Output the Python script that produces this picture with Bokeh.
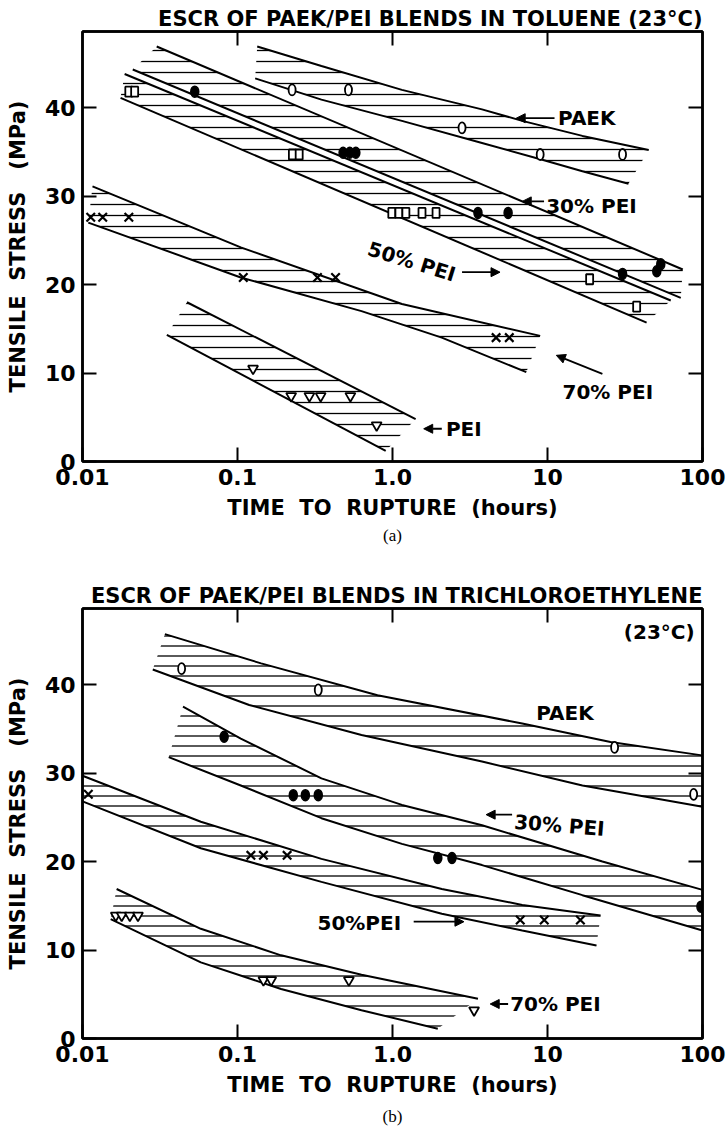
import json
from bokeh.plotting import figure
from bokeh.layouts import column
from bokeh.models import (LinearAxis, LogAxis, FixedTicker, Label, Arrow, NormalHead,
                          Title, CustomJSTickFormatter, Range1d)
from bokeh.embed import file_html
from bokeh.resources import INLINE

FONT = "DejaVu Sans"

# ---------------- shared axis data ----------------
x_ticks = [0.01, 0.1, 1, 10, 100]
x_tick_labels = ["0.01", "0.1", "1.0", "10", "100"]
y_ticks = [0, 10, 20, 30, 40]
x_label = "TIME\u00a0\u00a0TO\u00a0\u00a0RUPTURE\u00a0\u00a0(hours)"
y_label = "TENSILE\u00a0\u00a0STRESS\u00a0\u00a0\u00a0(MPa)"

# ---------------- panel (a): toluene ----------------
a_title = "ESCR OF PAEK/PEI BLENDS IN TOLUENE (23°C)"

a_paek_hi_x = [0.134, 0.348, 1.15, 3.78, 6.87, 16.8, 45.0]
a_paek_hi_y = [46.9, 44.7, 42.0, 39.8, 38.5, 36.8, 35.2]
a_paek_lo_x = [0.130, 0.348, 1.15, 3.78, 9.25, 16.8, 33.3]
a_paek_lo_y = [43.3, 40.9, 38.5, 36.0, 34.1, 32.8, 31.4]
a_pei30_hi_x = [0.0301, 74.6]
a_pei30_hi_y = [46.9, 21.7]
a_pei30_lo_x = [0.0211, 72.4]
a_pei30_lo_y = [44.3, 18.5]
a_pei50_hi_x = [0.0187, 62.4]
a_pei50_hi_y = [43.8, 18.2]
a_pei50_lo_x = [0.0176, 43.6]
a_pei50_lo_y = [41.1, 15.7]
a_pei70_hi_x = [0.0116, 0.105, 1.15, 8.97]
a_pei70_hi_y = [31.1, 24.2, 17.8, 14.2]
a_pei70_lo_x = [0.0109, 0.105, 0.631, 2.08, 7.30]
a_pei70_lo_y = [27.0, 20.8, 17.0, 14.0, 10.1]
a_pei_hi_x = [0.0472, 1.41]
a_pei_hi_y = [18.0, 4.8]
a_pei_lo_x = [0.035, 0.904]
a_pei_lo_y = [14.3, 1.2]

a_paek_pts_x = [0.225, 0.52, 2.81, 8.97, 30.5]
a_paek_pts_y = [42.0, 42.0, 37.7, 34.7, 34.7]
a_pei30_pts_x = [0.053, 0.48, 0.53, 0.58, 3.56, 5.57, 30.5, 50.7, 53.8]
a_pei30_pts_y = [41.8, 34.9, 34.9, 34.9, 28.1, 28.1, 21.2, 21.5, 22.3]
a_pei50_pts_x = [0.0199, 0.0217, 0.226, 0.250, 0.99, 1.10, 1.22, 1.55, 1.91, 18.7, 37.6]
a_pei50_pts_y = [41.8, 41.8, 34.7, 34.7, 28.1, 28.1, 28.1, 28.1, 28.1, 20.6, 17.5]
a_pei70_pts_x = [0.0113, 0.0135, 0.0199, 0.109, 0.328, 0.429, 4.66, 5.67]
a_pei70_pts_y = [27.6, 27.6, 27.6, 20.8, 20.8, 20.8, 14.0, 14.0]
a_pei_pts_x = [0.126, 0.222, 0.291, 0.344, 0.535, 0.79]
a_pei_pts_y = [10.5, 7.4, 7.4, 7.4, 7.4, 4.1]

a_note_text = ["PAEK", "30% PEI", "50% PEI", "70% PEI", "PEI"]
a_note_x = [11.7, 9.8, 1.33, 12.5, 2.21]
a_note_y = [38.8, 28.9, 22.6, 7.8, 3.7]
a_note_align = ["left", "left", "center", "left", "left"]
a_note_angle = [0.0, 0.0, -0.30, 0.0, 0.0]
a_arrow_x0 = [11.1, 9.5, 2.81, 22.6, 2.08]
a_arrow_y0 = [38.8, 29.4, 21.4, 9.9, 3.7]
a_arrow_x1 = [6.28, 6.87, 4.94, 11.4, 1.59]
a_arrow_y1 = [38.8, 29.4, 21.4, 12.0, 3.7]

# ---------------- panel (b): trichloroethylene ----------------
b_title = "ESCR OF PAEK/PEI BLENDS IN TRICHLOROETHYLENE"

b_paek_hi_x = [0.034, 0.142, 0.80, 6.87, 25.5, 99.3]
b_paek_hi_y = [45.7, 42.4, 38.8, 35.6, 33.5, 32.0]
b_paek_lo_x = [0.0284, 0.119, 0.631, 3.78, 16.8, 100]
b_paek_lo_y = [41.7, 37.7, 34.3, 31.3, 28.6, 26.2]
b_pei30_hi_x = [0.0445, 0.105, 0.348, 1.15, 3.78, 22.6, 100]
b_pei30_hi_y = [37.5, 33.9, 29.4, 26.4, 24.1, 20.0, 16.8]
b_pei30_lo_x = [0.036, 0.105, 0.348, 1.15, 3.78, 16.8, 100]
b_pei30_lo_y = [31.8, 28.6, 24.9, 22.0, 19.6, 16.2, 12.2]
b_pei50_hi_x = [0.01, 0.058, 0.348, 2.08, 6.87, 22.0]
b_pei50_hi_y = [29.7, 24.5, 20.3, 16.9, 15.1, 13.9]
b_pei50_lo_x = [0.01, 0.058, 0.348, 2.08, 6.87, 20.7]
b_pei50_lo_y = [26.8, 21.5, 17.7, 14.1, 12.2, 10.5]
b_pei70_hi_x = [0.0166, 0.058, 0.191, 0.631, 3.56]
b_pei70_hi_y = [16.9, 12.4, 9.4, 7.2, 4.5]
b_pei70_lo_x = [0.0152, 0.058, 0.191, 0.631, 1.96]
b_pei70_lo_y = [13.5, 8.6, 5.6, 3.2, 1.1]

b_paek_pts_x = [0.0436, 0.332, 27.1, 87.7]
b_paek_pts_y = [41.8, 39.4, 32.9, 27.6]
b_pei30_pts_x = [0.082, 0.229, 0.274, 0.332, 1.96, 2.42, 97.7]
b_pei30_pts_y = [34.1, 27.5, 27.5, 27.5, 20.4, 20.4, 14.9]
b_pei50_pts_x = [0.0109, 0.122, 0.147, 0.209, 6.67, 9.53, 16.3]
b_pei50_pts_y = [27.6, 20.7, 20.7, 20.7, 13.4, 13.4, 13.4]
b_pei70_pts_x = [0.0164, 0.0179, 0.0202, 0.0228, 0.147, 0.165, 0.523, 3.36]
b_pei70_pts_y = [13.9, 13.9, 13.9, 13.9, 6.6, 6.6, 6.6, 3.2]

b_note_text = ["(23°C)", "PAEK", "30% PEI", "50%PEI", "70% PEI"]
b_note_x = [89.0, 8.45, 6.1, 0.328, 5.74]
b_note_y = [46.0, 36.8, 24.5, 13.0, 3.9]
b_note_align = ["right", "left", "left", "left", "left"]
b_note_angle = [0.0, 0.0, -0.08, 0.0, 0.0]
b_arrow_x0 = [5.91, 1.37, 5.57]
b_arrow_y0 = [25.3, 13.2, 3.9]
b_arrow_x1 = [4.02, 2.89, 4.27]
b_arrow_y1 = [25.3, 13.2, 3.9]

Y_MAX = 48.6


def style_axis(ax, labels=True):
    ax.axis_line_width = 2.5
    ax.axis_line_color = "black"
    ax.major_tick_line_width = 2
    ax.major_tick_line_color = "black"
    ax.major_tick_in = 14
    ax.major_tick_out = 0
    ax.minor_tick_line_color = None
    ax.major_label_text_font = FONT
    ax.major_label_text_color = "black"
    if labels:
        ax.major_label_text_font_size = "22px"
        ax.major_label_text_font_style = "bold"
        ax.major_label_standoff = 7
    else:
        ax.major_label_text_font_size = "1px"
        ax.major_label_standoff = 0
        ax.formatter = CustomJSTickFormatter(code="return '';")


def make_panel(height, b_top, b_bottom, b_left, b_right, title, sub, sub_standoff):
    p = figure(width=726, height=height, x_axis_type="log",
               x_range=Range1d(0.01, 100), y_range=Range1d(0, Y_MAX),
               output_backend="svg", toolbar_location=None,
               min_border_top=b_top, min_border_bottom=b_bottom,
               min_border_left=b_left, min_border_right=b_right,
               background_fill_color="white", border_fill_color="white")
    p.grid.visible = False
    p.outline_line_color = "black"
    p.outline_line_width = 2.5
    p.outline_line_alpha = 1.0

    p.title.text = title
    p.title.align = "right"
    p.title.text_font = FONT
    p.title.text_font_size = "21px"
    p.title.text_font_style = "bold"
    p.title.text_color = "black"
    p.title.standoff = 2

    xa = p.xaxis[0]
    xa.ticker = FixedTicker(ticks=x_ticks)
    xa.formatter = CustomJSTickFormatter(
        code="const t=%s, l=%s; for (let i=0;i<t.length;i++){ if (Math.abs(Math.log10(tick)-Math.log10(t[i]))<1e-6) return l[i]; } return '';"
        % (json.dumps(x_ticks), json.dumps(x_tick_labels)))
    style_axis(xa)
    xa.axis_label = x_label
    xa.axis_label_text_font = FONT
    xa.axis_label_text_font_size = "21px"
    xa.axis_label_text_font_style = "bold"
    xa.axis_label_text_color = "black"
    xa.axis_label_standoff = 8

    ya = p.yaxis[0]
    ya.ticker = FixedTicker(ticks=y_ticks)
    style_axis(ya)
    ya.axis_label = y_label
    ya.axis_label_text_font = FONT
    ya.axis_label_text_font_size = "21px"
    ya.axis_label_text_font_style = "bold"
    ya.axis_label_text_color = "black"
    ya.axis_label_standoff = 12

    ra = LinearAxis(ticker=FixedTicker(ticks=y_ticks[1:]))
    style_axis(ra, labels=False)
    p.add_layout(ra, "right")
    ta = LogAxis(ticker=FixedTicker(ticks=x_ticks[1:-1]))
    style_axis(ta, labels=False)
    p.add_layout(ta, "above")

    p.add_layout(Title(text=sub, align="center", text_font="Liberation Serif",
                       text_font_size="17px", text_font_style="normal",
                       text_color="black", standoff=sub_standoff), "below")
    return p


def band(p, hx, hy, lx, ly, scale=11):
    p.patch(hx + lx[::-1], hy + ly[::-1], fill_color=None, line_color=None,
            hatch_pattern="horizontal_line", hatch_color="black",
            hatch_weight=1.3, hatch_scale=scale)
    p.line(hx, hy, line_color="black", line_width=2)
    p.line(lx, ly, line_color="black", line_width=2)


def open_ovals(p, x, y):
    p.ellipse(x, y, width=7, height=11, width_units="screen", height_units="screen",
              fill_color="white", line_color="black", line_width=1.8)


def filled_ovals(p, x, y):
    p.ellipse(x, y, width=8, height=11, width_units="screen", height_units="screen",
              fill_color="black", line_color="black", line_width=1.5)


def open_squares(p, x, y):
    p.rect(x, y, width=7, height=10, width_units="screen", height_units="screen",
           fill_color="white", line_color="black", line_width=1.8)


def crosses(p, x, y):
    p.scatter(x, y, marker="x", size=12, line_color="black", line_width=2.2)


def triangles(p, x, y):
    p.scatter(x, y, marker="inverted_triangle", size=10,
              fill_color="white", line_color="black", line_width=1.8)


def notes(p, texts, xs, ys, aligns, angles, ax0, ay0, ax1, ay1):
    for t, x, y, al, an in zip(texts, xs, ys, aligns, angles):
        p.add_layout(Label(x=x, y=y, text=t, text_align=al, text_baseline="middle",
                           angle=an, text_font=FONT, text_font_size="20px",
                           text_font_style="bold", text_color="black"))
    for x0, y0, x1, y1 in zip(ax0, ay0, ax1, ay1):
        p.add_layout(Arrow(end=NormalHead(size=9, fill_color="black", line_color="black"),
                           x_start=x0, y_start=y0, x_end=x1, y_end=y1,
                           line_color="black", line_width=1.8))


# ---- panel a
pa = make_panel(560, 31, 99, 82, 24, a_title, "(a)", 2)
band(pa, a_paek_hi_x, a_paek_hi_y, a_paek_lo_x, a_paek_lo_y)
band(pa, a_pei30_hi_x, a_pei30_hi_y, a_pei30_lo_x, a_pei30_lo_y)
band(pa, a_pei50_hi_x, a_pei50_hi_y, a_pei50_lo_x, a_pei50_lo_y)
band(pa, a_pei70_hi_x, a_pei70_hi_y, a_pei70_lo_x, a_pei70_lo_y)
band(pa, a_pei_hi_x, a_pei_hi_y, a_pei_lo_x, a_pei_lo_y)
open_ovals(pa, a_paek_pts_x, a_paek_pts_y)
filled_ovals(pa, a_pei30_pts_x, a_pei30_pts_y)
open_squares(pa, a_pei50_pts_x, a_pei50_pts_y)
crosses(pa, a_pei70_pts_x, a_pei70_pts_y)
triangles(pa, a_pei_pts_x, a_pei_pts_y)
notes(pa, a_note_text, a_note_x, a_note_y, a_note_align, a_note_angle,
      a_arrow_x0, a_arrow_y0, a_arrow_x1, a_arrow_y1)

# ---- panel b
pb = make_panel(574, 48, 96, 80, 24, b_title, "(b)", 10)
band(pb, b_paek_hi_x, b_paek_hi_y, b_paek_lo_x, b_paek_lo_y, 10)
band(pb, b_pei30_hi_x, b_pei30_hi_y, b_pei30_lo_x, b_pei30_lo_y, 10)
band(pb, b_pei50_hi_x, b_pei50_hi_y, b_pei50_lo_x, b_pei50_lo_y, 10)
band(pb, b_pei70_hi_x, b_pei70_hi_y, b_pei70_lo_x, b_pei70_lo_y, 10)
open_ovals(pb, b_paek_pts_x, b_paek_pts_y)
filled_ovals(pb, b_pei30_pts_x, b_pei30_pts_y)
crosses(pb, b_pei50_pts_x, b_pei50_pts_y)
triangles(pb, b_pei70_pts_x, b_pei70_pts_y)
notes(pb, b_note_text, b_note_x, b_note_y, b_note_align, b_note_angle,
      b_arrow_x0, b_arrow_y0, b_arrow_x1, b_arrow_y1)

layout = column(pa, pb, spacing=0)
open("out.html", "w").write(file_html(layout, INLINE))
